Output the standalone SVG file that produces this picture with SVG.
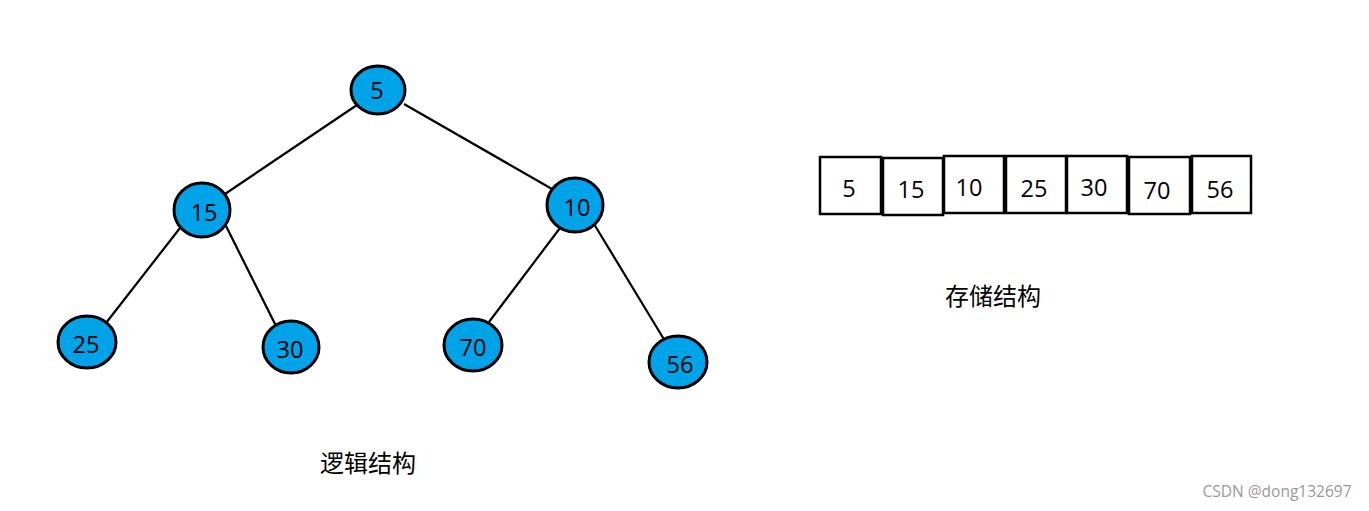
<svg xmlns="http://www.w3.org/2000/svg" width="1369" height="511" viewBox="0 0 1369 511">
<style>
.node ellipse{fill:#00a2e8;stroke:#000;stroke-width:3}
.num{font-family:"Open Sans","Noto Sans CJK SC",sans-serif;font-size:23.5px;fill:#000;text-anchor:middle}
.cell rect{fill:#fff;stroke:#000;stroke-width:2.5}
.edge{stroke:#000;stroke-width:2.2}
.lbl{font-family:"Noto Sans CJK SC",sans-serif;font-size:24px;fill:#000;text-anchor:middle}
</style>
<rect width="1369" height="511" fill="#fff"/>
<g id="edges">
<line class="edge" x1="357" y1="105" x2="222" y2="196"/>
<line class="edge" x1="404" y1="104" x2="552" y2="189"/>
<line class="edge" x1="180" y1="228" x2="106" y2="323"/>
<line class="edge" x1="226" y1="226" x2="276" y2="326"/>
<line class="edge" x1="560" y1="228" x2="489" y2="322"/>
<line class="edge" x1="594" y1="224" x2="665" y2="341"/>
</g>
<g id="n5" class="node"><ellipse cx="378" cy="90" rx="27" ry="24"/><text class="num" x="377" y="99">5</text></g>
<g id="n15" class="node"><ellipse cx="202" cy="210" rx="28" ry="27"/><text class="num" x="204" y="221">15</text></g>
<g id="n10" class="node"><ellipse cx="575" cy="205" rx="28" ry="27"/><text class="num" x="577" y="216">10</text></g>
<g id="n25" class="node"><ellipse cx="87" cy="342" rx="29" ry="26"/><text class="num" x="86" y="353">25</text></g>
<g id="n30" class="node"><ellipse cx="291" cy="347" rx="28" ry="26"/><text class="num" x="290" y="358">30</text></g>
<g id="n70" class="node"><ellipse cx="473" cy="345" rx="29" ry="26"/><text class="num" x="473" y="356">70</text></g>
<g id="n56" class="node"><ellipse cx="678" cy="362" rx="29" ry="26"/><text class="num" x="680" y="373">56</text></g>
<g id="array">
<g id="c0" class="cell"><rect x="820" y="157" width="61" height="57"/><text class="num" x="849" y="197">5</text></g>
<g id="c1" class="cell"><rect x="883" y="158" width="60" height="57"/><text class="num" x="911" y="198">15</text></g>
<g id="c2" class="cell"><rect x="944" y="156" width="60" height="57"/><text class="num" x="969" y="196">10</text></g>
<g id="c3" class="cell"><rect x="1006" y="156" width="60" height="57"/><text class="num" x="1034" y="197">25</text></g>
<g id="c4" class="cell"><rect x="1067" y="156" width="60" height="57"/><text class="num" x="1094" y="196">30</text></g>
<g id="c5" class="cell"><rect x="1129" y="157" width="61" height="57"/><text class="num" x="1157" y="199">70</text></g>
<g id="c6" class="cell"><rect x="1192" y="156" width="59" height="57"/><text class="num" x="1220" y="198">56</text></g>
</g>
<text class="lbl" x="368" y="472">逻辑结构</text>
<text class="lbl" x="993" y="305">存储结构</text>
<text x="1277" y="497" font-family="'Open Sans','DejaVu Sans',sans-serif" font-size="15.5" fill="#999" text-anchor="middle">CSDN @dong132697</text>
</svg>
